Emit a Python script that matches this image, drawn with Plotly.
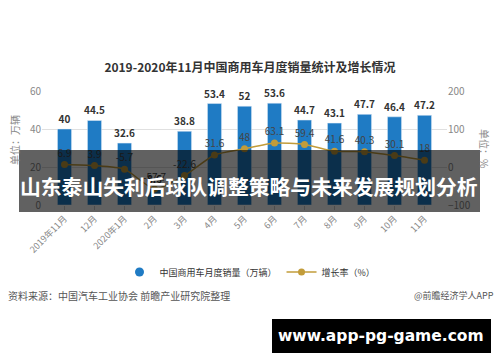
import plotly.graph_objects as go

months = ["2019年11月", "12月", "2020年1月", "2月", "3月", "4月", "5月",
          "6月", "7月", "8月", "9月", "10月", "11月"]
sales = [40, 44.5, 32.6, 8.6, 38.8, 53.4, 52, 53.6, 44.7, 43.1, 47.7, 46.4, 47.2]
growth = [6.9, 3.9, -5.7, -57.7, -22.6, 31.6, 48, 63.1, 59.4, 41.6, 40.3, 30.1, 18]

W, H = 500, 362
L, R, T, B = 42, 447, 91, 205


def px(x):
    return (x - L) / (R - L)


def py(y):
    return (B - y) / (B - T)


FONT = "Noto Sans CJK SC"
BLUE = "#1f7bc4"
GOLD = "#c29c3a"

fig = go.Figure()
fig.add_trace(go.Bar(
    x=months, y=sales, name="中国商用车月度销量（万辆）",
    marker_color=BLUE, width=0.47, showlegend=False,
    text=[str(v) for v in sales], textposition="outside", constraintext="none",
    textfont=dict(size=10, color="#333", family=FONT, weight="bold"),
    cliponaxis=False,
))
fig.add_trace(go.Scatter(
    x=[None], y=[None], mode="markers", name="中国商用车月度销量（万辆）",
    marker=dict(color=BLUE, size=9, symbol="circle"),
))
fig.add_trace(go.Scatter(
    x=months, y=growth, name="增长率（%）", yaxis="y2",
    mode="lines+markers+text", line=dict(color=GOLD, width=1.5, shape="spline", smoothing=0.6),
    marker=dict(color=GOLD, size=7),
    text=[str(v) for v in growth], textposition="top center",
    textfont=dict(size=10, color="#444", family=FONT),
    cliponaxis=False,
))

fig.update_layout(
    width=W, height=H,
    margin=dict(l=L, r=W - R, t=T, b=H - B, autoexpand=False),
    paper_bgcolor="white", plot_bgcolor="white",
    font=dict(family=FONT, size=10, color="#888"),
    bargap=0.5,
    title=dict(text="<b>2019-2020年11月中国商用车月度销量统计及增长情况</b>",
               x=0.5, xanchor="center", y=1 - 68 / H, yanchor="middle",
               font=dict(size=12, color="#333", family=FONT)),
    xaxis=dict(type="category", range=[-0.75, 12.75], tickangle=-45,
               tickfont=dict(size=9, color="#888"), showgrid=False,
               ticks="outside", ticklen=4, tickcolor="#ccc", showline=False),
    yaxis=dict(range=[0, 60], tickvals=[0, 20, 40, 60], showgrid=True,
               gridcolor="#e0e0e0", zeroline=False,
               tickfont=dict(size=10, color="#888")),
    yaxis2=dict(range=[-100, 200], tickvals=[-100, 0, 100, 200], overlaying="y",
                side="right", showgrid=False, zeroline=False,
                tickfont=dict(size=10, color="#888")),
    legend=dict(orientation="h", x=px(250), xanchor="center", y=py(272), yanchor="middle",
                font=dict(size=9, color="#333"), bgcolor="rgba(0,0,0,0)",
                itemwidth=30, tracegroupgap=0),
    showlegend=True,
)

ann = [
    dict(text="单位：万辆", x=px(14), y=py(140), textangle=-90,
         font=dict(size=10, color="#888")),
    dict(text="单位：%", x=px(485), y=py(148), textangle=90,
         font=dict(size=10, color="#888")),
    dict(text="资料来源：中国汽车工业协会 前瞻产业研究院整理", x=px(6), y=py(295),
         xanchor="left", font=dict(size=10, color="#555")),
    dict(text="@前瞻经济学人APP", x=px(412), y=py(295), xanchor="left",
         font=dict(size=9, color="#555")),
    dict(text="<b>山东泰山失利后球队调整策略与未来发展规划分析</b>", x=px(249), y=py(186),
         font=dict(size=20.8, color="white", family=FONT)),
    dict(text="<b>www.app-pg-game.com</b>", x=px(381), y=py(336),
         font=dict(size=15.5, color="white", family="DejaVu Sans")),
]
for a in ann:
    a.setdefault("xanchor", "center")
    a.update(xref="paper", yref="paper", showarrow=False, yanchor="middle")
fig.update_layout(annotations=ann)

fig.add_shape(type="rect", xref="paper", yref="paper",
              x0=px(19), x1=px(480), y0=py(212), y1=py(150),
              fillcolor="rgba(0,0,0,0.62)", line_width=0, layer="above")
fig.add_shape(type="rect", xref="paper", yref="paper",
              x0=px(272), x1=px(491), y0=py(353), y1=py(319),
              fillcolor="black", line_width=0, layer="above")

fig.write_html("out.html", config={"displayModeBar": False},
               post_script="document.body.style.margin='0';document.body.style.overflow='hidden';")
